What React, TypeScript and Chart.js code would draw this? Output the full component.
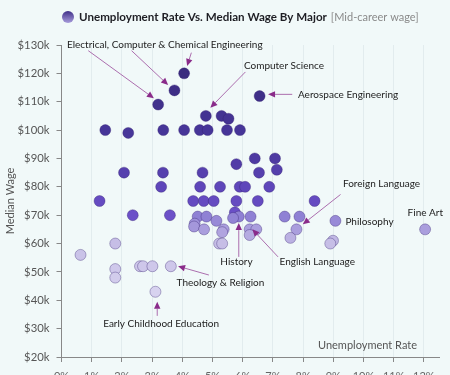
import React, { useEffect, useRef } from "react";
import { Chart, registerables } from "chart.js";

Chart.register(...registerables);

// Unemployment rate (%) per major
const unemployment: number[] = [
  4.06, 3.74, 3.2, 6.56, 4.78, 5.3, 5.53,
  1.45, 2.21, 3.37, 4.06, 4.58, 4.84, 5.48, 5.91,
  5.79, 6.4, 7.07, 7.13, 6.54, 2.07, 3.36, 4.67,
  3.3, 4.59, 5.25, 5.9, 6.08, 6.88,
  1.26, 4.36, 4.71, 5.04, 5.79, 6.5, 8.38,
  2.36, 3.59, 4.51, 4.8, 6.26, 7.39, 7.88,
  5.74, 5.87, 5.68,
  5.13, 4.41, 4.39, 4.72, 5.37, 5.32, 5.22, 5.32,
  6.23, 6.45, 6.23, 7.78, 7.58,
  1.78, 0.63, 9.07, 8.99, 8.9, 12.04,
  1.78, 1.78, 2.6, 2.7, 3.01, 3.62, 3.11,
];
// Mid-career median wage ($k) per major
const medianWage: number[] = [
  120, 114, 109, 112, 105, 105, 104,
  100, 99, 100, 100, 100, 100, 100, 100,
  88, 90, 90, 86, 85, 85, 85, 85,
  80, 80, 80, 80, 80, 80,
  75, 75, 75, 75, 75, 75, 75,
  70, 70, 69.5, 69.5, 69.5, 69.5, 69.5,
  71, 69.5, 69,
  68, 67, 66, 65, 65, 64, 60, 60,
  65, 65, 63, 65, 62,
  60, 56, 68, 61, 60, 65,
  51, 48, 52, 52, 52, 52, 43,
];

const yTicks: number[] = [20, 30, 40, 50, 60, 70, 80, 90, 100, 110, 120, 130];
const xTicks: number[] = [0, 1, 2, 3, 4, 5, 6, 7, 8, 9, 10, 11, 12];

const titleText = "Unemployment Rate Vs. Median Wage By Major";
const subtitleText = "[Mid-career wage]";
const xTitle = "Unemployment Rate";
const yTitle = "Median Wage";

// Annotations: label, label anchor (x%, $k), arrows [from, to] in data units
type Ann = { text: string; x: number; y: number; arrows: [number, number, number, number][] };
const annotations: Ann[] = [
  {
    text: "Electrical, Computer & Chemical Engineering", x: 0.18, y: 130,
    arrows: [
      [0.886, 128.0, 3.06, 111.2],
      [2.32, 128.0, 3.53, 115.9],
      [4.3, 127.3, 4.16, 122.6],
    ],
  },
  { text: "Computer Science", x: 6.04, y: 122.8, arrows: [[6.09, 120.5, 4.93, 107.9]] },
  { text: "Aerospace Engineering", x: 7.83, y: 112.6, arrows: [[7.64, 112.6, 6.84, 112.6]] },
  { text: "Foreign Language", x: 9.32, y: 81.2, arrows: [[9.24, 77.3, 7.99, 66.8]] },
  { text: "Philosophy", x: 9.4, y: 67.8, arrows: [] },
  { text: "Fine Art", x: 11.46, y: 70.8, arrows: [] },
  { text: "English Language", x: 7.22, y: 53.6, arrows: [[7.17, 55.3, 6.32, 65.0]] },
  { text: "History", x: 5.26, y: 53.6, arrows: [[5.87, 55.3, 5.87, 67.2]] },
  { text: "Theology & Religion", x: 3.81, y: 46.2, arrows: [[4.88, 48.9, 3.86, 52.0]] },
  { text: "Early Childhood Education", x: 1.38, y: 31.6, arrows: [[3.17, 34.5, 3.17, 39.5]] },
];

const FONT = "Lato, 'Open Sans', sans-serif";

const colorStops: [number, [number, number, number]][] = [
  [40, [218, 213, 240]],
  [60, [198, 190, 230]],
  [65, [170, 158, 221]],
  [69.6, [142, 128, 212]],
  [69.9, [108, 80, 200]],
  [80, [94, 70, 186]],
  [90, [78, 58, 162]],
  [100, [70, 53, 152]],
  [120, [58, 43, 126]],
];

function colorFor(w: number): string {
  if (w <= colorStops[0][0]) return `rgb(${colorStops[0][1].join(",")})`;
  for (let i = 1; i < colorStops.length; i++) {
    const [w1, c1] = colorStops[i];
    const [w0, c0] = colorStops[i - 1];
    if (w <= w1) {
      const t = (w - w0) / (w1 - w0);
      const c = c0.map((v, k) => Math.round(v + (c1[k] - v) * t));
      return `rgb(${c.join(",")})`;
    }
  }
  return `rgb(${colorStops[colorStops.length - 1][1].join(",")})`;
}

const bgPlugin = {
  id: "bg",
  beforeDraw(chart: any) {
    const ctx = chart.ctx;
    ctx.save();
    ctx.fillStyle = "#f1f9f9";
    ctx.fillRect(0, 0, chart.width, chart.height);
    ctx.restore();
  },
};

const decorPlugin = {
  id: "decor",
  afterDraw(chart: any) {
    const ctx = chart.ctx;
    const xs = chart.scales.x;
    const ys = chart.scales.y;
    const area = chart.chartArea;
    ctx.save();
    // title
    const cx = 68, cy = 17;
    const g = ctx.createLinearGradient(0, cy - 6, 0, cy + 6);
    g.addColorStop(0, "#3f2f88");
    g.addColorStop(1, "#a89ddc");
    ctx.beginPath();
    ctx.arc(cx, cy, 6, 0, Math.PI * 2);
    ctx.fillStyle = g;
    ctx.fill();
    ctx.font = `bold 11.6px ${FONT}`;
    ctx.fillStyle = "#1e1e24";
    ctx.textBaseline = "middle";
    ctx.textAlign = "left";
    ctx.fillText(titleText, 79, cy);
    const w = ctx.measureText(titleText).width;
    ctx.font = `11px ${FONT}`;
    ctx.fillStyle = "#8a8a8a";
    ctx.fillText(subtitleText, 79 + w + 4, cy);

    // x axis title
    ctx.font = `11px ${FONT}`;
    ctx.fillStyle = "#555";
    ctx.textAlign = "right";
    ctx.fillText(xTitle, area.right - 22, area.bottom - 12);

    // annotations
    ctx.font = `10px ${FONT}`;
    ctx.textAlign = "left";
    for (const a of annotations) {
      ctx.fillStyle = "#222";
      ctx.fillText(a.text, xs.getPixelForValue(a.x), ys.getPixelForValue(a.y));
      for (const [x0, y0, x1, y1] of a.arrows) {
        const px0 = xs.getPixelForValue(x0), py0 = ys.getPixelForValue(y0);
        const px1 = xs.getPixelForValue(x1), py1 = ys.getPixelForValue(y1);
        const ang = Math.atan2(py1 - py0, px1 - px0);
        const L = 7, W = 3.2;
        const bx = px1 - L * Math.cos(ang), by = py1 - L * Math.sin(ang);
        ctx.strokeStyle = "rgba(138,43,138,0.85)";
        ctx.lineWidth = 0.8;
        ctx.beginPath();
        ctx.moveTo(px0, py0);
        ctx.lineTo(bx, by);
        ctx.stroke();
        ctx.fillStyle = "#8a2b8a";
        ctx.beginPath();
        ctx.moveTo(px1, py1);
        ctx.lineTo(bx + W * Math.sin(ang), by - W * Math.cos(ang));
        ctx.lineTo(bx - W * Math.sin(ang), by + W * Math.cos(ang));
        ctx.closePath();
        ctx.fill();
      }
    }
    ctx.restore();
  },
};

export default function App() {
  const ref = useRef<HTMLCanvasElement | null>(null);
  useEffect(() => {
    if (!ref.current) return;
    const data = unemployment.map((u, i) => ({ x: u, y: medianWage[i] }));
    const colors = medianWage.map((w) => colorFor(w));
    const chart = new Chart(ref.current, {
      type: "scatter",
      data: {
        datasets: [
          {
            data,
            backgroundColor: colors,
            borderColor: "rgba(50,30,110,0.35)",
            borderWidth: 1,
            pointRadius: 5.5,
            pointHoverRadius: 5.5,
          },
        ],
      },
      options: {
        animation: false,
        responsive: true,
        maintainAspectRatio: false,
        events: [],
        layout: { padding: { top: 45, right: 11, left: 0, bottom: 0 } },
        plugins: { legend: { display: false }, tooltip: { enabled: false }, title: { display: false } },
        scales: {
          x: {
            type: "linear",
            min: 0,
            max: 12.5,
            afterBuildTicks: (s: any) => {
              s.ticks = xTicks.map((v) => ({ value: v }));
            },
            afterFit: (s: any) => {
              s.height = 18;
            },
            grid: { color: "#e2ecee", tickColor: "#888", tickLength: 5, lineWidth: 1 },
            border: { display: true, color: "#888" },
            ticks: {
              color: "#666",
              font: { family: FONT, size: 11 },
              padding: 8,
              maxRotation: 0,
              callback: (v: any) => `${v}%`,
            },
          },
          y: {
            type: "linear",
            min: 20,
            max: 130,
            afterBuildTicks: (s: any) => {
              s.ticks = yTicks.map((v) => ({ value: v }));
            },
            afterFit: (s: any) => {
              s.width = 61.5;
            },
            grid: { drawOnChartArea: false, tickColor: "#888", tickLength: 5 },
            border: { display: true, color: "#888" },
            title: {
              display: true,
              text: yTitle,
              color: "#555",
              font: { family: FONT, size: 11 },
              padding: { top: 4, bottom: 0 },
            },
            ticks: {
              color: "#555",
              font: { family: FONT, size: 11.3 },
              padding: 7,
              callback: (v: any) => `$${v}k`,
            },
          },
        },
      },
      plugins: [bgPlugin, decorPlugin],
    } as any);
    return () => chart.destroy();
  }, []);
  return (
    <div style={{ position: "fixed", left: 0, top: 0, width: 450, height: 375 }}>
      <canvas ref={ref} />
    </div>
  );
}
